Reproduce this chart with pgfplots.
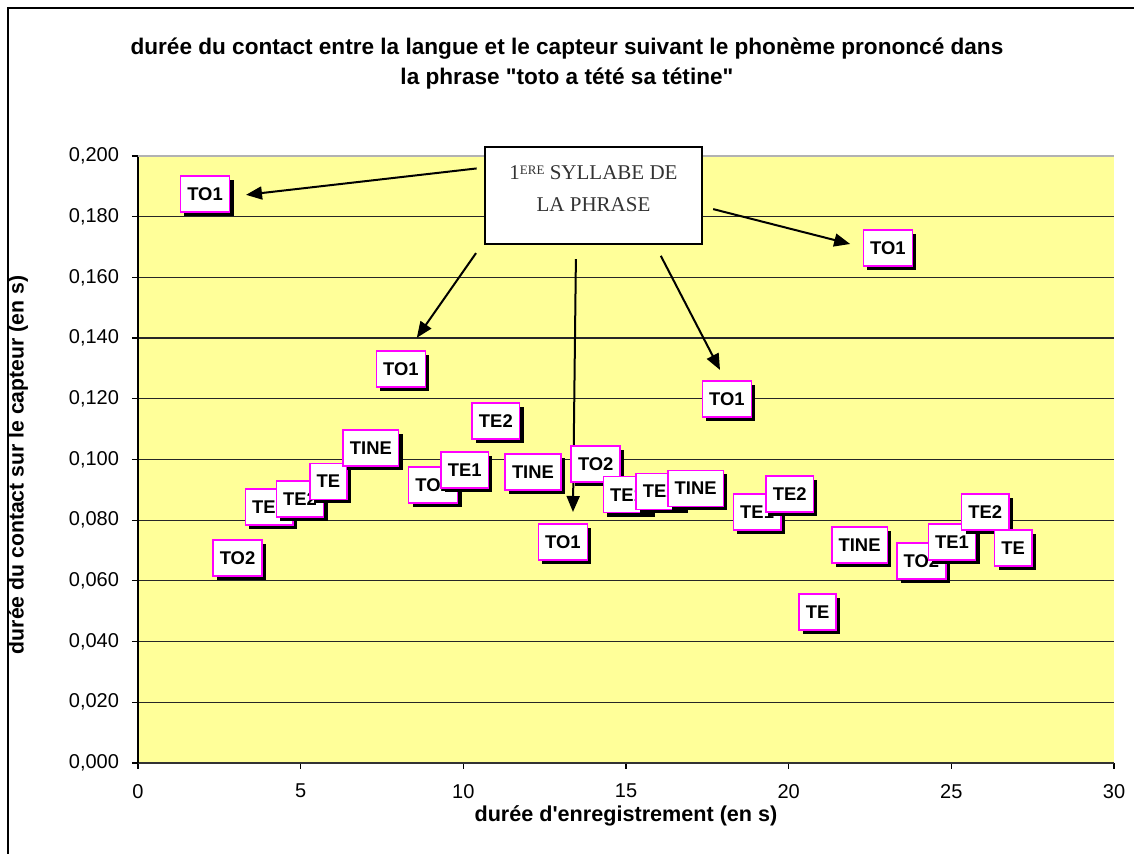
\documentclass[border=0pt]{standalone}
\usepackage{pgfplots}
\pgfplotsset{compat=1.18}
\usepackage{fontspec}
\setmainfont{Liberation Sans}[Ligatures=TeXOff]
\newfontfamily\serifcallout{Liberation Serif}
\usetikzlibrary{shadows,arrows.meta}
\definecolor{plotbg}{RGB}{255,255,153}
\definecolor{lblborder}{RGB}{255,0,255}
\definecolor{callouttext}{RGB}{51,51,51}
\begin{document}
\begin{tikzpicture}
\useasboundingbox (-69pt,-45.5pt) rectangle (498pt,381.5pt);
% outer chart frame
\draw[line width=0.8pt,black] (-65pt,-60pt) -- (-65pt,377.5pt) -- (520pt,377.5pt);
\begin{axis}[
  at={(0,0)}, anchor=south west,
  scale only axis, width=488pt, height=303.5pt,
  xmin=0, xmax=30, ymin=0, ymax=0.2,
  xtick={0,5,...,30}, ytick={0,0.02,...,0.2},
  scaled y ticks=false,
  axis x line*=bottom, axis y line*=left,
  x axis line style={line width=0.9pt, black!80},
  y axis line style={line width=0.8pt, black},
  tick align=outside, major tick length=3pt,
  tick style={black, line width=0.6pt},
  ymajorgrids, grid style={black!85, line width=0.6pt},
  axis background/.style={fill=plotbg},
  clip=false,
  /pgf/number format/assume math mode=true,
  ticklabel style={font=\fontsize{10}{12}\selectfont},
  yticklabel={\pgfmathprintnumber[fixed,fixed zerofill,precision=3,use comma,assume math mode=true]{\tick}},
  yticklabel style={xshift=-3pt},
  xticklabel style={yshift=-4pt},
  xlabel={durée d'enregistrement (en s)},
  ylabel={durée du contact sur le capteur (en s)},
  xlabel style={font=\bfseries\fontsize{10.8}{12}\selectfont, at={(axis description cs:0.5,-0.0873)}, anchor=center},
  ylabel style={font=\bfseries\fontsize{10.6}{12}\selectfont, at={(axis description cs:-0.123,0.491)}, anchor=center},
  title={durée du contact entre la langue et le capteur suivant le phonème prononcé dans\\la phrase "toto a tété sa tétine"},
  title style={font=\bfseries\fontsize{11.3}{15}\selectfont, align=center, at={(axis description cs:0.4395,1)}, anchor=center, yshift=40pt},
]
\draw[black!30, line width=0.8pt] (axis cs:0,0.2) -- (axis cs:30,0.2);
\addplot[draw=none, mark=none,
  nodes near coords, point meta=explicit symbolic,
  nodes near coords align={center},
  every node near coord/.style={font=\bfseries\fontsize{9.2}{10}\selectfont, fill=white, draw=lblborder, line width=0.8pt,
    inner xsep=3.4pt, inner ysep=0pt, minimum height=18pt, anchor=center,
    drop shadow={shadow xshift=2pt, shadow yshift=-2pt, fill=black, opacity=1}},
] table[x=x, y=y, meta=label] {
x y label
2.06 0.1874 TO1
3.06 0.0675 TO2
4.03 0.0844 TE1
4.98 0.0869 TE2
5.85 0.0928 TE
7.16 0.1037 TINE
8.08 0.1298 TO1
9.07 0.0915 TO2
10.04 0.0966 TE1
11.00 0.1126 TE2
12.14 0.0959 TINE
13.06 0.0728 TO1
14.07 0.0986 TO2
15.03 0.0884 TE1
16.04 0.0895 TE2
17.14 0.0905 TINE
18.10 0.1199 TO1
19.03 0.0827 TE1
20.03 0.0887 TE2
20.89 0.0498 TE
22.18 0.0718 TINE
23.05 0.1696 TO1
24.08 0.0666 TO2
25.02 0.0728 TE1
26.04 0.0827 TE2
26.90 0.0708 TE
};
% arrows from the callout
\begin{scope}[line width=1pt, -{Triangle[length=8pt,width=6.5pt]}]
\draw (axis cs:10.41,0.1959) -- (axis cs:3.32,0.1872);
\draw (axis cs:17.68,0.1825) -- (axis cs:21.89,0.1710);
\draw (axis cs:10.39,0.1680) -- (axis cs:8.57,0.1401);
\draw (axis cs:13.46,0.1660) -- (axis cs:13.37,0.0827);
\draw (axis cs:16.07,0.1671) -- (axis cs:17.89,0.1295);
\end{scope}
\end{axis}
% callout box (coordinates relative to the plot area's lower left corner)
\node[draw=black, line width=1pt, fill=white, minimum width=108.5pt, minimum height=48.5pt, inner sep=0pt] at (227.75pt,283.75pt) {};
\node[text=callouttext, font=\serifcallout\fontsize{10.5}{16}\selectfont, align=center, inner sep=0pt] at (227.75pt,287pt)
  {1\raisebox{2.6pt}{\fontsize{6.5}{7}\selectfont ERE} SYLLABE DE\\LA PHRASE};
\end{tikzpicture}
\end{document}
